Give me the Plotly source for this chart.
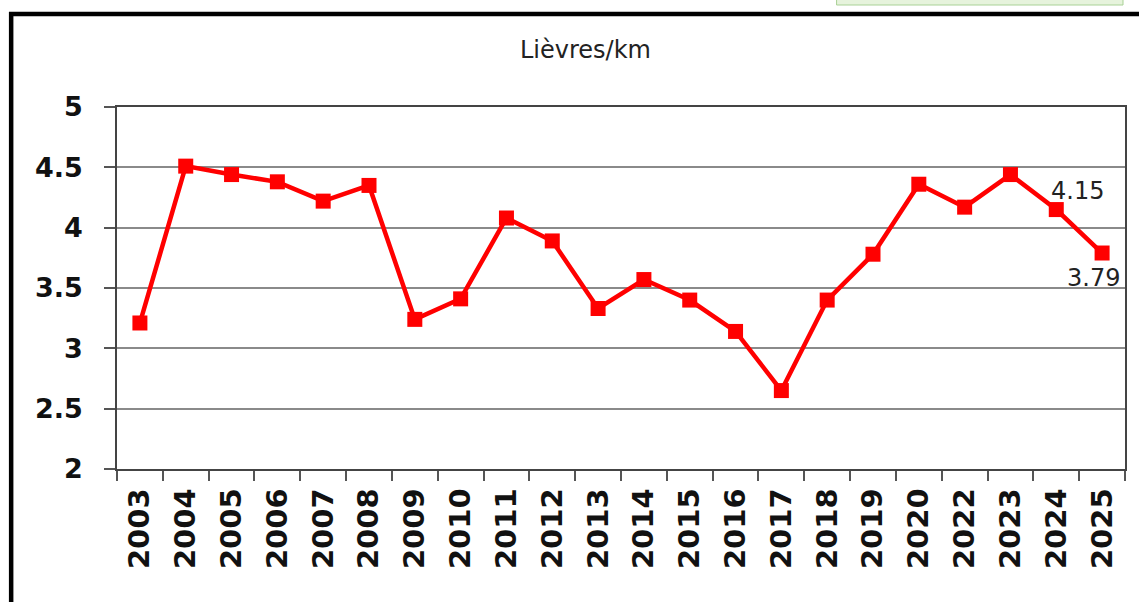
import plotly.graph_objects as go

years = ["2003", "2004", "2005", "2006", "2007", "2008", "2009", "2010", "2011", "2012",
         "2013", "2014", "2015", "2016", "2017", "2018", "2019", "2020", "2022", "2023",
         "2024", "2025"]
hares_per_km = [3.21, 4.51, 4.44, 4.38, 4.22, 4.35, 3.24, 3.41, 4.08, 3.89,
                3.33, 3.57, 3.40, 3.14, 2.65, 3.40, 3.78, 4.36, 4.17, 4.44,
                4.15, 3.79]
y_ticks = [2, 2.5, 3, 3.5, 4, 4.5, 5]
title_text = "Lièvres/km"

fig = go.Figure()
fig.add_trace(go.Scatter(
    x=years, y=hares_per_km, mode="lines+markers",
    line=dict(color="#ff0000", width=4.5),
    marker=dict(symbol="square", size=15, color="#ff0000"),
    showlegend=False, hoverinfo="x+y",
))

n = len(years)
fig.add_annotation(x=n - 2, y=hares_per_km[-2], text=f"{hares_per_km[-2]:.2f}",
                   showarrow=False, xanchor="left", yanchor="bottom", xshift=-7, yshift=3,
                   font=dict(family="DejaVu Sans", size=24, color="#222222"))
fig.add_annotation(x=n - 1, y=hares_per_km[-1], text=f"{hares_per_km[-1]:.2f}",
                   showarrow=False, xanchor="center", yanchor="top", xshift=-9, yshift=-9,
                   font=dict(family="DejaVu Sans", size=24, color="#222222"))

fig.add_annotation(xref="paper", yref="paper", x=0.465, y=1.0, yshift=57,
                   text=title_text, showarrow=False, xanchor="center", yanchor="middle",
                   font=dict(family="DejaVu Sans", size=24, color="#222222"))

# outer frame
fig.add_shape(type="rect", xref="paper", yref="paper",
              x0=-0.105, x1=1.05, y0=-0.5, y1=1.0 + 93/362,
              line=dict(color="#000000", width=4.5), fillcolor="rgba(0,0,0,0)", layer="below")
# pale green strip at the very top right
fig.add_shape(type="rect", xref="paper", yref="paper",
              x0=(838-117)/1010, x1=(1125-117)/1010, y0=1.0 + 102/362, y1=1.0 + 110/362,
              line=dict(color="#a9d196", width=1), fillcolor="#e6f3dc", layer="below")

fig.update_layout(
    width=1139, height=602,
    margin=dict(l=117, r=12, t=107, b=133),
    paper_bgcolor="white", plot_bgcolor="white",
    font=dict(family="DejaVu Sans", color="#111111"),
    xaxis=dict(
        type="category", tickson="boundaries", ticks="outside", ticklen=10,
        tickcolor="#555555", tickwidth=1.5, tickangle=-90,
        showline=True, linecolor="#444444", linewidth=1.5, mirror=True,
        showgrid=False, tickfont=dict(family="DejaVu Sans", size=29, weight="bold", color="#111111"),
        range=[-0.5, n - 0.5], ticklabelstandoff=6,
    ),
    yaxis=dict(
        range=[2, 5], tickvals=y_ticks, ticktext=[f"{v:g}" for v in y_ticks],
        ticks="outside", ticklen=11, tickcolor="#555555", tickwidth=1.5,
        showline=True, linecolor="#444444", linewidth=1.5, mirror=True,
        showgrid=True, gridcolor="#8a8a8a", gridwidth=1.5, zeroline=False,
        tickfont=dict(family="DejaVu Sans", size=27, weight="bold", color="#111111"),
        ticklabelstandoff=16,
    ),
)

fig.write_html("out.html", config={"displayModeBar": False},
               post_script="document.body.style.margin='0';document.body.style.overflow='hidden';")
